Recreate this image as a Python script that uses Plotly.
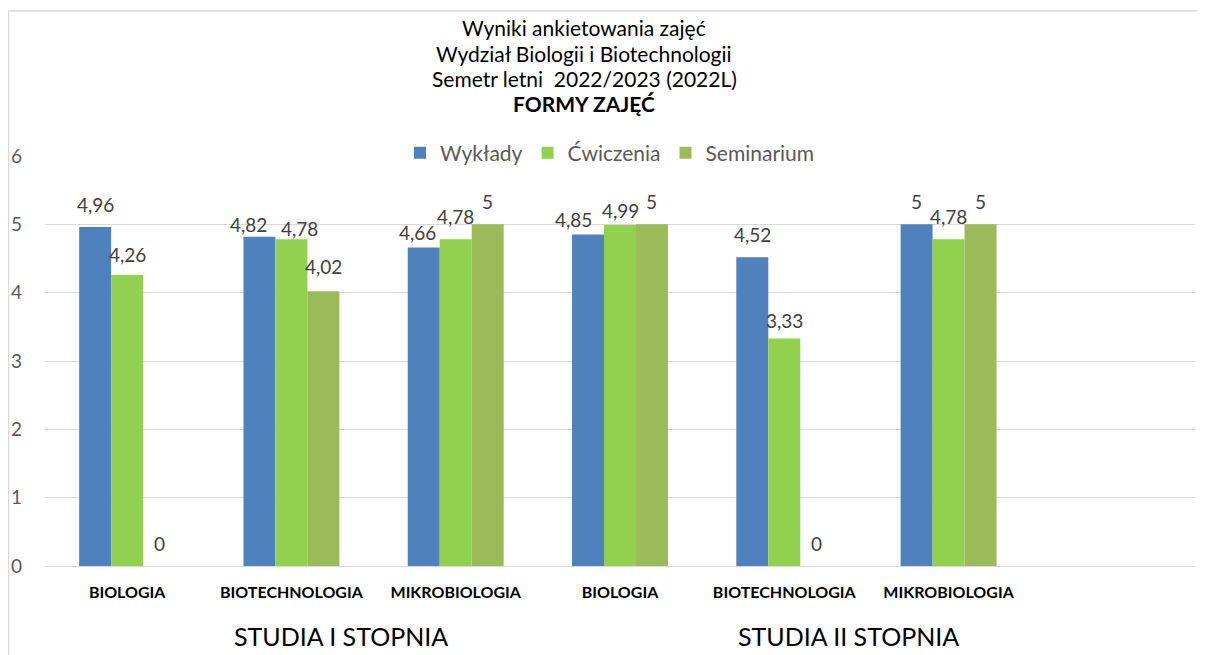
import plotly.graph_objects as go

# ---------------- data ----------------
categories = ["BIOLOGIA", "BIOTECHNOLOGIA", "MIKROBIOLOGIA",
              "BIOLOGIA", "BIOTECHNOLOGIA", "MIKROBIOLOGIA"]
levels = ["STUDIA I STOPNIA", "STUDIA II STOPNIA"]
series_names = ["Wykłady", "Ćwiczenia", "Seminarium"]
wyklady = [4.96, 4.82, 4.66, 4.85, 4.52, 5]
cwiczenia = [4.26, 4.78, 4.78, 4.99, 3.33, 4.78]
seminarium = [0, 4.02, 5, 5, 0, 5]
title_lines = ["Wyniki ankietowania zajęć",
               "Wydział Biologii i Biotechnologii",
               "Semetr letni  2022/2023 (2022L)",
               "<b>FORMY ZAJĘĆ</b>"]

# ---------------- style ----------------
FONT = "Lato"
colors = ["#4F81BD", "#92D050", "#9BBB59"]
OFF = 8                      # page body margin
W, H = 1205 - OFF, 655 - OFF
# plot area in page coordinates: x 45..1195, y 156..566
ML = 45 - OFF
MT = 156 - OFF
MR = W - (1195 - OFF)
MB = H - (566 - OFF)
PW, PH = W - ML - MR, H - MT - MB
BARGAP = 0.416
n_slots = 7
label_gap = 23
# manual label nudges (dx, dy) in px, keyed by (series index, category index)
nudges = {(0, 1): (-11, 11), (1, 1): (8, 12), (2, 1): (0, -2),
          (0, 2): (-6, 8), (0, 3): (-15, 8), (1, 3): (0, 8),
          (1, 0): (0, 3), (1, 4): (0, 5)}


def py(page_y):
    return (MT + PH - (page_y - OFF)) / PH


def px(page_x):
    return (page_x - OFF - ML) / PW


x = list(range(len(categories)))
all_series = [wyklady, cwiczenia, seminarium]

fig = go.Figure()
for name, vals, col in zip(series_names, all_series, colors):
    fig.add_trace(go.Bar(x=x, y=vals, name=name, marker_color=col,
                         marker_line_width=0))

bar_w = (1 - BARGAP) / len(all_series)
annotations = []
for si, vals in enumerate(all_series):
    off = (si - 1) * bar_w
    for ci, v in enumerate(vals):
        if v is None:
            continue
        dx, dy = nudges.get((si, ci), (0, 0))
        annotations.append(dict(
            x=ci + off, y=v, xref="x", yref="y",
            text=f"{v:g}".replace(".", ","), showarrow=False,
            xanchor="center", yanchor="middle",
            xshift=dx, yshift=label_gap - dy,
            font=dict(family=FONT, size=19, color="#404040")))

# title lines
for i, t in enumerate(title_lines):
    annotations.append(dict(
        x=px(584), y=py(28 + 25 * i), xref="paper", yref="paper",
        text=t, showarrow=False, xanchor="center", yanchor="middle",
        font=dict(family=FONT, size=21, color="#000000")))

# group labels
for xpix, lv in zip([341, 848], levels):
    annotations.append(dict(
        x=px(xpix), y=py(636), xref="paper", yref="paper",
        text=lv, showarrow=False, xanchor="center", yanchor="middle",
        font=dict(family=FONT, size=25, color="#000000")))

fig.update_layout(
    width=W, height=H,
    margin=dict(l=ML, r=MR, t=MT, b=MB, autoexpand=False),
    paper_bgcolor="white", plot_bgcolor="white",
    barmode="group", bargap=BARGAP, bargroupgap=0,
    showlegend=True,
    legend=dict(orientation="h", x=px(610), xanchor="center",
                y=py(153), yanchor="middle",
                font=dict(family=FONT, size=21, color="#595959"),
                bgcolor="rgba(0,0,0,0)", itemclick=False, itemwidth=30),
    annotations=annotations,
    shapes=[dict(type="rect", xref="paper", yref="paper",
                 x0=px(8.5), x1=px(1260), y0=py(700), y1=py(11),
                 line=dict(color="#D9D9D9", width=1.5), layer="below")],
    xaxis=dict(tickvals=x, ticktext=categories, range=[-0.5, n_slots - 0.5],
               showgrid=False, zeroline=False, showline=False,
               ticks="", ticklabelstandoff=15, automargin=False,
               tickfont=dict(family=FONT, size=16, color="#000000",
                             weight="bold")),
    yaxis=dict(range=[0, 6], dtick=1, showgrid=True, gridcolor="#D9D9D9",
               gridwidth=1.3, zeroline=True, zerolinecolor="#D9D9D9",
               zerolinewidth=1.3, showline=False, ticks="",
               ticklabelstandoff=22, automargin=False,
               tickfont=dict(family=FONT, size=19, color="#595959")),
)

fig.write_html("out.html")
